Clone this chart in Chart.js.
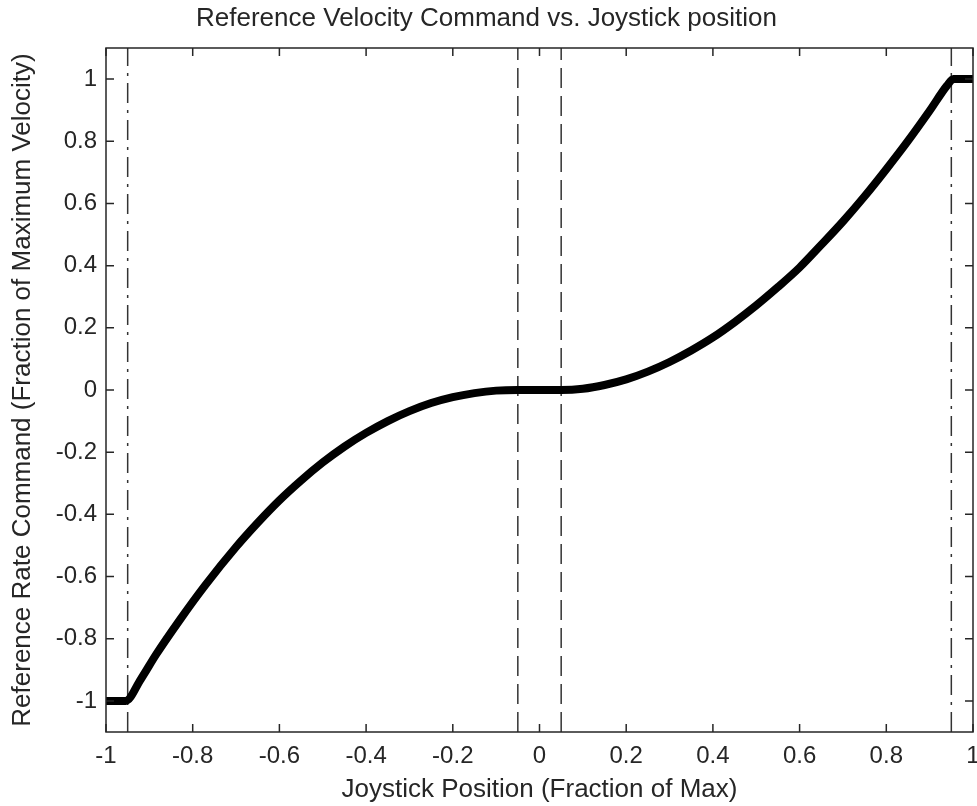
<!DOCTYPE html>
<html>
<head>
<meta charset="utf-8">
<script src="https://cdn.jsdelivr.net/npm/chart.js@4.4.1/dist/chart.umd.min.js"></script>
<style>
  html, body { margin: 0; padding: 0; background: #fff; }
  #wrap { width: 977px; height: 806px; }
</style>
</head>
<body>
<div id="wrap"><canvas id="chart"></canvas></div>
<script>
// joystick position (fraction of max) and the resulting rate command
const xPos = [-1, -0.955, -0.92, -0.885, -0.83, -0.77, -0.70, -0.65, -0.60, -0.55, -0.50, -0.45,
  -0.40, -0.35, -0.30, -0.25, -0.20, -0.15, -0.10, -0.05, 0, 0.05, 0.10, 0.15, 0.20, 0.25, 0.30,
  0.35, 0.40, 0.45, 0.50, 0.55, 0.60, 0.65, 0.70, 0.75, 0.80, 0.85, 0.90, 0.94, 0.955, 1];
const yCmd = [-1, -1, -0.931, -0.852, -0.740, -0.626, -0.505, -0.427, -0.355, -0.291, -0.233, -0.182,
  -0.138, -0.100, -0.068, -0.042, -0.023, -0.010, -0.002, 0, 0, 0, 0.004, 0.016, 0.034, 0.059, 0.090,
  0.127, 0.169, 0.218, 0.272, 0.331, 0.394, 0.467, 0.542, 0.623, 0.710, 0.801, 0.898, 0.979, 1, 1];

// dead band (dashed) and saturation (dash-dot) limits
const deadBand = [-0.05, 0.05];
const saturation = [-0.95, 0.95];

const xTicks = [-1, -0.8, -0.6, -0.4, -0.2, 0, 0.2, 0.4, 0.6, 0.8, 1];
const yTicks = [-1, -0.8, -0.6, -0.4, -0.2, 0, 0.2, 0.4, 0.6, 0.8, 1];
const yLimits = [-1.1, 1.1];

const INK = '#262626';
const FONT = "'Liberation Sans', Arial, sans-serif";

function vline(x, dash) {
  return {
    data: [{ x, y: yLimits[0] }, { x, y: yLimits[1] }],
    borderColor: '#333',
    borderWidth: 1.5,
    borderDash: dash,
    pointRadius: 0,
    tension: 0,
  };
}

// MATLAB style box with inward ticks on all four sides
const boxTicks = {
  id: 'boxTicks',
  afterDraw(chart) {
    const { ctx, chartArea: a, scales: { x, y } } = chart;
    const len = 8;
    ctx.save();
    ctx.strokeStyle = INK;
    ctx.lineWidth = 1.5;
    ctx.strokeRect(a.left, a.top, a.right - a.left, a.bottom - a.top);
    ctx.beginPath();
    xTicks.forEach((v) => {
      const px = x.getPixelForValue(v);
      ctx.moveTo(px, a.bottom); ctx.lineTo(px, a.bottom - len);
      ctx.moveTo(px, a.top); ctx.lineTo(px, a.top + len);
    });
    yTicks.forEach((v) => {
      const py = y.getPixelForValue(v);
      ctx.moveTo(a.left, py); ctx.lineTo(a.left + len, py);
      ctx.moveTo(a.right, py); ctx.lineTo(a.right - len, py);
    });
    ctx.stroke();
    ctx.restore();
  },
};

const fmt = (v) => String(Math.round(v * 10) / 10);

new Chart(document.getElementById('chart'), {
  type: 'line',
  data: {
    datasets: [
      {
        data: xPos.map((x, i) => ({ x, y: yCmd[i] })),
        borderColor: '#000',
        borderWidth: 8,
        pointRadius: 0,
        cubicInterpolationMode: 'monotone',
        borderCapStyle: 'butt',
        borderJoinStyle: 'round',
      },
      vline(deadBand[0], [20, 8]),
      vline(deadBand[1], [20, 8]),
      vline(saturation[0], [20, 7, 3, 7]),
      vline(saturation[1], [20, 7, 3, 7]),
    ],
  },
  options: {
    responsive: true,
    maintainAspectRatio: false,
    animation: false,
    layout: { padding: { left: 0, right: 4, top: 0, bottom: 0 } },
    plugins: {
      legend: { display: false },
      tooltip: { enabled: false },
      title: {
        display: true,
        text: 'Reference Velocity Command vs. Joystick position',
        color: INK,
        font: { family: FONT, size: 26, weight: 'normal', lineHeight: 1.2 },
        padding: { top: 3, bottom: 13.8 },
      },
    },
    scales: {
      x: {
        type: 'linear',
        min: -1,
        max: 1,
        afterBuildTicks: (s) => { s.ticks = xTicks.map((value) => ({ value })); },
        afterFit: (s) => { s.height = 74; s.paddingLeft = 0; s.paddingRight = 0; },
        grid: { display: false, drawTicks: false },
        border: { display: false },
        ticks: {
          color: INK,
          padding: 10,
          maxRotation: 0,
          autoSkip: false,
          font: { family: FONT, size: 24 },
          callback: fmt,
        },
        title: {
          display: true,
          text: 'Joystick Position (Fraction of Max)',
          color: INK,
          font: { family: FONT, size: 26, lineHeight: 1.2 },
          padding: { top: 0, bottom: 1 },
        },
      },
      y: {
        type: 'linear',
        min: yLimits[0],
        max: yLimits[1],
        afterBuildTicks: (s) => { s.ticks = yTicks.map((value) => ({ value })); },
        afterFit: (s) => { s.width = 106; s.paddingTop = 0; s.paddingBottom = 0; },
        grid: { display: false, drawTicks: false },
        border: { display: false },
        ticks: {
          color: INK,
          padding: 9,
          autoSkip: false,
          font: { family: FONT, size: 24 },
          callback: fmt,
        },
        title: {
          display: true,
          text: 'Reference Rate Command (Fraction of Maximum Velocity)',
          color: INK,
          font: { family: FONT, size: 26, lineHeight: 1.2 },
          padding: { top: 7, bottom: 0 },
        },
      },
    },
  },
  plugins: [boxTicks],
});
</script>
</body>
</html>
